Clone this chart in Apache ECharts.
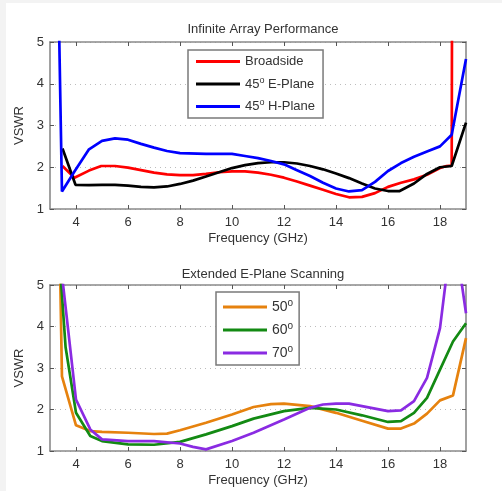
<!DOCTYPE html>
<html>
<head>
<meta charset="utf-8">
<script src="https://cdn.jsdelivr.net/npm/echarts@6/dist/echarts.min.js"></script>
<style>
html,body{margin:0;padding:0;background:#fff;}
#strip-l{position:absolute;left:0;top:0;width:6px;height:491px;background:#f3f3f3;}
#strip-t{position:absolute;left:0;top:0;width:502px;height:3px;background:#f3f3f3;}
#chart{position:absolute;left:0;top:0;width:502px;height:491px;}
</style>
</head>
<body>
<div id="strip-l"></div><div id="strip-t"></div>
<div id="chart"></div>
<script>
// ---- Data ----
const xTicks = [4, 6, 8, 10, 12, 14, 16, 18];
const yTicks = [1, 2, 3, 4, 5];

// Top: Infinite Array Performance
const broadsideF = [3.48, 3.94, 4.5, 4.97, 5.5, 6.0, 6.5, 7.0, 7.5, 8.0, 8.5, 9.0, 9.5, 10.0, 10.5, 11.0, 11.5, 12.0, 12.5, 13.0, 13.5, 14.0, 14.5, 15.0, 15.5, 16.0, 16.5, 17.0, 17.5, 18.0, 18.25, 18.45, 18.47];
const broadsideV = [2.03, 1.75, 1.92, 2.03, 2.03, 1.99, 1.93, 1.87, 1.83, 1.81, 1.81, 1.84, 1.88, 1.90, 1.90, 1.87, 1.82, 1.75, 1.66, 1.56, 1.46, 1.36, 1.28, 1.29, 1.38, 1.53, 1.63, 1.71, 1.82, 1.98, 2.03, 2.04, 8.0];

const eplaneF = [3.48, 3.98, 4.5, 5.0, 5.5, 6.0, 6.5, 7.0, 7.5, 8.0, 8.5, 9.0, 9.5, 10.0, 10.5, 11.0, 11.5, 12.0, 12.5, 13.0, 13.5, 14.0, 14.5, 15.0, 15.5, 16.0, 16.45, 17.0, 17.5, 18.0, 18.45, 19.0];
const eplaneV = [2.45, 1.58, 1.57, 1.58, 1.58, 1.56, 1.53, 1.52, 1.54, 1.60, 1.68, 1.78, 1.88, 1.98, 2.05, 2.10, 2.12, 2.12, 2.09, 2.03, 1.95, 1.85, 1.74, 1.61, 1.49, 1.43, 1.43, 1.61, 1.84, 2.00, 2.03, 3.07];

const hplaneF = [3.35, 3.46, 3.94, 4.5, 5.0, 5.5, 6.0, 6.5, 7.0, 7.5, 8.0, 9.0, 10.0, 10.5, 11.0, 11.5, 12.0, 12.5, 13.0, 13.5, 14.0, 14.5, 15.0, 15.5, 16.0, 16.5, 17.0, 17.5, 18.0, 18.45, 19.0];
const hplaneV = [5.3, 1.42, 1.90, 2.43, 2.63, 2.69, 2.66, 2.56, 2.47, 2.39, 2.34, 2.32, 2.32, 2.27, 2.22, 2.15, 2.07, 1.93, 1.79, 1.63, 1.49, 1.42, 1.45, 1.65, 1.91, 2.10, 2.25, 2.38, 2.50, 2.78, 4.59];

// Bottom: Extended E-Plane Scanning
const s50F = [3.39, 3.46, 4.0, 4.55, 5.0, 6.0, 7.0, 7.5, 8.0, 9.0, 10.0, 10.83, 11.5, 12.0, 13.0, 14.0, 15.0, 16.0, 16.5, 17.0, 17.5, 18.0, 18.5, 19.0];
const s50V = [5.3, 2.80, 1.62, 1.48, 1.46, 1.44, 1.41, 1.42, 1.50, 1.68, 1.88, 2.06, 2.13, 2.14, 2.08, 1.92, 1.73, 1.54, 1.54, 1.66, 1.90, 2.22, 2.34, 3.72];

const s60F = [3.4, 3.6, 4.0, 4.55, 5.0, 6.0, 7.0, 8.0, 9.0, 10.0, 10.83, 12.0, 13.0, 14.0, 15.0, 16.0, 16.5, 17.0, 17.5, 18.0, 18.5, 19.0];
const s60V = [5.3, 3.50, 1.92, 1.36, 1.24, 1.16, 1.15, 1.22, 1.40, 1.60, 1.78, 1.96, 2.04, 2.00, 1.86, 1.70, 1.72, 1.92, 2.28, 2.96, 3.64, 4.08];

const s70F = [3.45, 4.0, 4.55, 5.0, 6.0, 7.0, 8.0, 8.5, 9.0, 10.0, 10.83, 12.0, 13.0, 13.5, 14.0, 14.5, 15.0, 16.0, 16.5, 17.0, 17.5, 18.0, 18.5, 19.0];
const s70V = [5.3, 2.24, 1.52, 1.28, 1.24, 1.24, 1.18, 1.10, 1.04, 1.24, 1.44, 1.76, 2.04, 2.12, 2.14, 2.14, 2.08, 1.96, 1.98, 2.20, 2.76, 3.96, 6.5, 4.32];

const topNames = ['Broadside', '45o E-Plane', '45o H-Plane'];
const botNames = ['50o', '60o', '70o'];

// ---- Chart ----
const zip = (f, v) => f.map((x, i) => [x, v[i]]);
const txt = '#333333';
const axisCol = '#8a8a8a';
const font = 'Liberation Sans, Arial, Helvetica, sans-serif';

function xAx(gi, bottom) {
  return {
    type: 'value', gridIndex: gi, min: 3, max: 19,
    position: bottom ? 'bottom' : 'top',
    name: bottom ? 'Frequency (GHz)' : '',
    nameLocation: 'middle', nameGap: 23,
    nameTextStyle: {color: txt, fontSize: 13, fontFamily: font},
    axisLine: {show: true, onZero: false, lineStyle: {color: axisCol, width: 1.6}},
    axisTick: {show: true, inside: true, length: 4, customValues: xTicks, lineStyle: {color: '#555', width: 1}},
    axisLabel: bottom ? {show: true, customValues: xTicks, color: txt, fontSize: 13, fontFamily: font, margin: 7} : {show: false},
    splitLine: {show: false}
  };
}
function yAx(gi, left) {
  return {
    type: 'value', gridIndex: gi, min: 1, max: 5, interval: 1,
    position: left ? 'left' : 'right',
    name: left ? 'VSWR' : '',
    nameLocation: 'middle', nameGap: 21, nameRotate: 90,
    nameTextStyle: {color: txt, fontSize: 13, fontFamily: font},
    axisLine: {show: true, onZero: false, lineStyle: {color: axisCol, width: 1.6}},
    axisTick: {show: true, inside: true, length: 4, lineStyle: {color: '#555', width: 1}},
    axisLabel: left ? {show: true, color: txt, fontSize: 13, fontFamily: font, margin: 6} : {show: false},
    splitLine: left ? {show: true, lineStyle: {color: '#bdbdbd', type: [1, 4], width: 1}} : {show: false}
  };
}
function ser(name, f, v, color, gi) {
  return {
    name: name, type: 'line', xAxisIndex: gi * 2, yAxisIndex: gi * 2,
    data: zip(f, v), showSymbol: false, symbol: 'none', clip: true,
    lineStyle: {color: color, width: 2.7}, itemStyle: {color: color},
    z: 3
  };
}
const richSup = {
  n: {fontSize: 13, fontFamily: font, color: txt},
  s: {fontSize: 9, fontFamily: font, color: txt, padding: [0, 0, 7, 0]},
  n2: {fontSize: 14, fontFamily: font, color: txt},
  s2: {fontSize: 10, fontFamily: font, color: txt, padding: [0, 0, 8, 0]}
};
function fmtTop(name) {
  if (name.indexOf('45o') === 0) return '{n|45}{s|o}{n|' + name.slice(3) + '}';
  return '{n|' + name + '}';
}
function fmtBot(name) {
  return '{n2|' + name.slice(0, 2) + '}{s2|o}';
}

const option = {
  animation: false,
  backgroundColor: 'transparent',
  title: [
    {text: 'Infinite Array Performance', left: 258, top: 18, textAlign: 'center',
     textStyle: {color: txt, fontSize: 13, fontWeight: 'normal', fontFamily: font}},
    {text: 'Extended E-Plane Scanning', left: 258, top: 263, textAlign: 'center',
     textStyle: {color: txt, fontSize: 13, fontWeight: 'normal', fontFamily: font}}
  ],
  grid: [
    {left: 50, right: 36, top: 42, height: 167},
    {left: 50, right: 36, top: 285, height: 166}
  ],
  xAxis: [xAx(0, true), xAx(0, false), xAx(1, true), xAx(1, false)],
  yAxis: [yAx(0, true), yAx(0, false), yAx(1, true), yAx(1, false)],
  legend: [
    {data: topNames, orient: 'vertical', left: 188, top: 50, icon: 'rect', itemWidth: 44, itemHeight: 3, itemGap: 8,
     padding: [5, 8, 5, 8], borderColor: '#7a7a7a', borderWidth: 1.5, backgroundColor: '#fff',
     formatter: fmtTop, textStyle: {rich: richSup}, selectedMode: false},
    {data: botNames, orient: 'vertical', left: 216, top: 292, icon: 'rect', itemWidth: 44, itemHeight: 3, itemGap: 7,
     padding: [6, 6, 5, 7], borderColor: '#7a7a7a', borderWidth: 1.5, backgroundColor: '#fff',
     formatter: fmtBot, textStyle: {rich: richSup}, selectedMode: false}
  ],
  series: [
    ser(topNames[0], broadsideF, broadsideV, '#ff0000', 0),
    ser(topNames[1], eplaneF, eplaneV, '#000000', 0),
    ser(topNames[2], hplaneF, hplaneV, '#0000ff', 0),
    ser(botNames[0], s50F, s50V, '#e6820e', 1),
    ser(botNames[1], s60F, s60V, '#138a13', 1),
    ser(botNames[2], s70F, s70V, '#8a2be2', 1)
  ]
};
const chart = echarts.init(document.getElementById('chart'), null, {renderer: 'canvas'});
chart.setOption(option);
</script>
</body>
</html>
